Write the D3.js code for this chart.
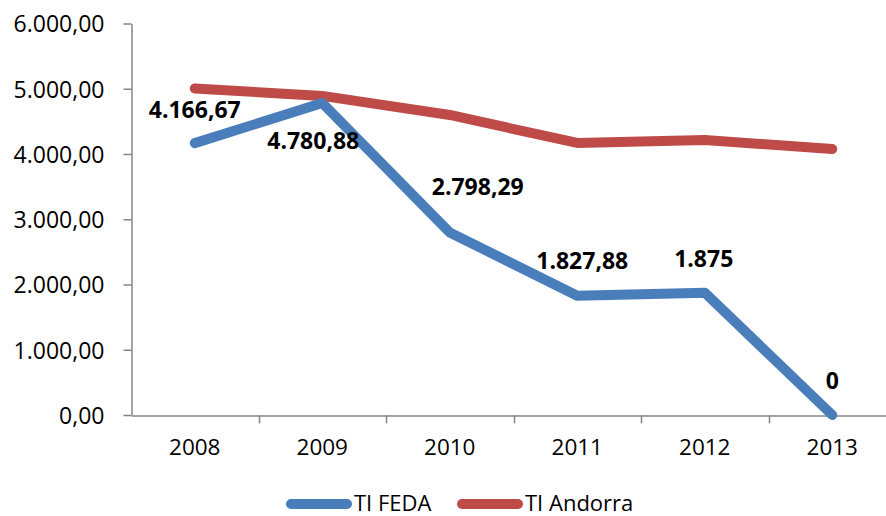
<!DOCTYPE html>
<html>
<head>
<meta charset="utf-8">
<script src="https://cdn.jsdelivr.net/npm/d3@7/dist/d3.min.js"></script>
<style>
  html, body { margin: 0; padding: 0; background: #ffffff; }
  svg { display: block; }
  text { font-family: "Open Sans", "Lato", sans-serif; fill: #000; }
</style>
</head>
<body>
<svg id="chart" width="886" height="516"></svg>
<script>
// Years on the category axis
const years = ["2008", "2009", "2010", "2011", "2012", "2013"];
// TI FEDA series (labelled values)
const feda = [4166.67, 4780.88, 2798.29, 1827.88, 1875, 0];
// Labels printed next to each FEDA point
const fedaLabels = ["4.166,67", "4.780,88", "2.798,29", "1.827,88", "1.875", "0"];
// TI Andorra series
const andorra = [5005, 4890, 4598, 4169, 4215, 4077];
// Value axis ticks
const yTicks = [0, 1000, 2000, 3000, 4000, 5000, 6000];
const seriesNames = ["TI FEDA", "TI Andorra"];

// Placement of each FEDA value label relative to its point
const labelOffsets = [[0, -25], [-9, 46], [28, -37], [5, -27], [-1, -26], [0, -26]];

const colors = { feda: "#4a7ebb", andorra: "#be4b48", axis: "#868686" };
const FONT = "'Open Sans', Lato, sans-serif";

const svg = d3.select("#chart");

const x = d3.scaleBand().domain(years).range([131, 896]);
const y = d3.scaleLinear().domain([0, 6000]).range([415, 23.5]);
const cx = d => x(d) + x.bandwidth() / 2;

const fmt = v => {
  const s = v.toFixed(2).split(".");
  return s[0].replace(/\B(?=(\d{3})+(?!\d))/g, ".") + "," + s[1];
};

// Value axis
const yAxis = svg.append("g")
  .attr("transform", "translate(131.5,0)")
  .call(d3.axisLeft(y).tickValues(yTicks).tickFormat(fmt).tickSizeOuter(0).tickSizeInner(8).tickPadding(19));
yAxis.select(".domain").attr("stroke", colors.axis).attr("stroke-width", 1.5);
yAxis.selectAll(".tick line").attr("stroke", colors.axis).attr("stroke-width", 1.5);
yAxis.selectAll(".tick text")
  .attr("font-size", 23).attr("font-family", FONT)
  .attr("fill", "#000").attr("dy", "0.36em");

// Category axis
const xAxis = svg.append("g")
  .attr("transform", "translate(0,415.5)")
  .call(d3.axisBottom(x).tickSizeOuter(0).tickSize(0).tickPadding(24));
xAxis.select(".domain").attr("stroke", colors.axis).attr("stroke-width", 1.5);
xAxis.selectAll(".tick text")
  .attr("font-size", 22.5).attr("font-family", FONT)
  .attr("fill", "#000");
// Tick marks between categories
svg.append("g").selectAll("line")
  .data(years.slice(1))
  .join("line")
  .attr("x1", d => Math.round(x(d)) + 0.5).attr("x2", d => Math.round(x(d)) + 0.5)
  .attr("y1", 415.5).attr("y2", 423.5)
  .attr("stroke", colors.axis).attr("stroke-width", 1.5);

// Series lines
const line = d3.line().x((d, i) => cx(years[i])).y(d => y(d));
svg.append("path")
  .datum(andorra)
  .attr("d", line)
  .attr("fill", "none").attr("stroke", colors.andorra)
  .attr("stroke-width", 10).attr("stroke-linecap", "round").attr("stroke-linejoin", "round");
svg.append("path")
  .datum(feda)
  .attr("d", line)
  .attr("fill", "none").attr("stroke", colors.feda)
  .attr("stroke-width", 10).attr("stroke-linecap", "round").attr("stroke-linejoin", "round");

// FEDA value labels
svg.append("g").selectAll("text")
  .data(feda)
  .join("text")
  .attr("x", (d, i) => cx(years[i]) + labelOffsets[i][0])
  .attr("y", (d, i) => y(d) + labelOffsets[i][1])
  .attr("text-anchor", "middle")
  .attr("font-size", 23).attr("font-weight", "bold")
  .text((d, i) => fedaLabels[i]);

// Legend
const legend = svg.append("g");
const legendItems = [
  { name: seriesNames[0], color: colors.feda, x0: 291 },
  { name: seriesNames[1], color: colors.andorra, x0: 462 }
];
legendItems.forEach(it => {
  legend.append("line")
    .attr("x1", it.x0).attr("x2", it.x0 + 56)
    .attr("y1", 504).attr("y2", 504)
    .attr("stroke", it.color).attr("stroke-width", 10).attr("stroke-linecap", "round");
  legend.append("text")
    .attr("x", it.x0 + 63).attr("y", 511)
    .attr("font-size", 22)
    .text(it.name);
});
</script>
</body>
</html>
